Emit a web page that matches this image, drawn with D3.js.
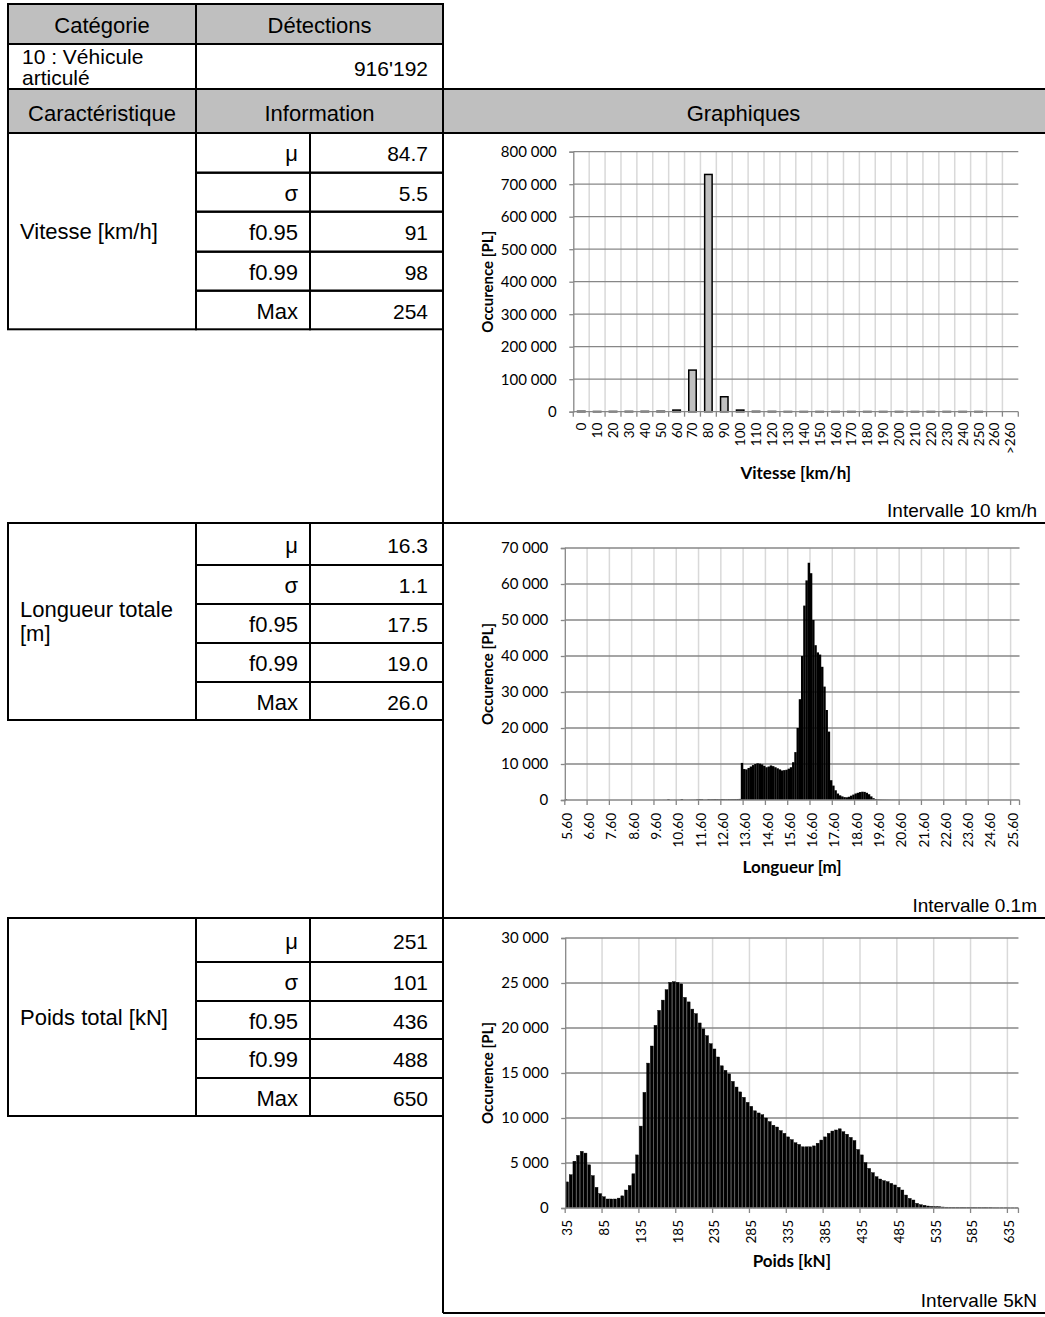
<!DOCTYPE html>
<html><head><meta charset="utf-8">
<script src="https://cdn.jsdelivr.net/npm/d3@7"></script>
<style>body{margin:0;background:#fff}svg{display:block}</style>
</head><body>
<svg id="c" width="1045" height="1317"></svg>
<script>
// ---------------- DATA ----------------
const speedCategories = ["0","10","20","30","40","50","60","70","80","90","100","110","120","130","140","150","160","170","180","190","200","210","220","230","240","250","260",">260"];
const speedValues = [1200,600,800,900,1000,1300,5000,128000,730000,46000,5000,1000,800,500,500,500,500,500,500,500,500,500,500,500,500,500,0,0];

const lengthStart = 5.6; // first 0.1 m class
const lengthTickLabels = ["5.60","6.60","7.60","8.60","9.60","10.60","11.60","12.60","13.60","14.60","15.60","16.60","17.60","18.60","19.60","20.60","21.60","22.60","23.60","24.60","25.60"];
const lengthValues = [
 200,0,0,0,0,0,0,0,0,0, 0,0,0,0,0,0,0,0,0,0,
 0,0,0,0,0,0,0,0,0,0, 0,0,0,0,0,0,0,0,0,0,
 30,20,30,20,40,30,220,40,30,50, 40,60,250,60,50,60,70,80,90,200,
 250,220,90,100,250,200,220,250,230,200, 260,240,220,250,230,240,260,280,300,10300,
 8600,8500,8900,9300,9700,10000,10200,10100,9900,9500, 9100,9300,9600,9400,9100,8800,8500,8200,8300,8400,
 8700,9100,10500,13300,20000,28000,40000,54000,61000,65900, 63000,50000,43000,41000,40400,37000,31500,25000,19000,5500,
 4000,2700,1800,1300,1000,800,750,900,1200,1500, 1800,2000,2200,2300,2250,2000,1600,1000,500,250,
 150,120,100,90,80,70,60,60,50,50, 50,40,40,40,30,30,30,30,30,20,
 20,20,20,20,20,20,20,20,20,20, 20,20,20,20,20,20,20,20,20,20,
 20,20,20,20,20,20,20,20,20,20, 20,20,20,20,20,20,20,20,20,20,
 20,20,20,20
];

const weightStart = 35; // first 5 kN class
const weightTickLabels = ["35","85","135","185","235","285","335","385","435","485","535","585","635"];
const weightValues = [
 2900,3700,5200,5850,6300,6100,4800,3600,2300,1600,
 1250,1000,1000,1000,1100,1350,2000,2500,3800,5900,
 9100,12850,16100,18000,20300,21960,23100,24260,25070,25150,
 25070,24900,23400,22900,22100,21600,20560,19900,19150,18260,
 17670,16780,15800,15300,14900,14070,13440,12900,12300,11740,
 11300,10800,10560,10370,10000,9600,9200,9000,8600,8300,
 7900,7600,7250,7070,6800,6800,6800,6900,7200,7550,
 7900,8300,8550,8670,8800,8480,8200,7850,7500,6500,
 5900,5040,4400,3930,3480,3220,3040,2930,2740,2560,
 2300,2000,1440,1070,890,520,370,300,220,180,
 150,150,110,90,80,70,60,60,50,50,
 40,40,40,30,30,30,20,20,20,20,
 10,10,10
];

const headerTexts = ["Catégorie","Détections","Caractéristique","Information","Graphiques"];
const categoryLabel = ["10 : Véhicule","articulé"];
const detections = "916'192";
const statNames = ["μ","σ","f0.95","f0.99","Max"];
const speedStats = ["84.7","5.5","91","98","254"];
const lengthStats = ["16.3","1.1","17.5","19.0","26.0"];
const weightStats = ["251","101","436","488","650"];
const sectionLabels = [["Vitesse [km/h]"],["Longueur totale","[m]"],["Poids total [kN]"]];
const xTitles = ["Vitesse [km/h]","Longueur [m]","Poids [kN]"];
const intervalTexts = ["Intervalle 10 km/h","Intervalle 0.1m","Intervalle 5kN"];
const yTitle = "Occurence [PL]";

// ---------------- DRAW ----------------
const svg = d3.select("#c");
const TF = "'Liberation Sans', Arial, sans-serif";
const CF = "Lato, 'Open Sans', sans-serif";
const GRAY = "#bfbfbf";
const fmt = d3.formatLocale({decimal:".", thousands:" ", grouping:[3], currency:["",""]}).format(",");

const gTable = svg.append("g");
function cell(x0,y0,x1,y1,fill){
  gTable.append("rect").attr("x",x0).attr("y",y0).attr("width",x1-x0).attr("height",y1-y0)
    .attr("fill",fill||"none").attr("stroke","#000").attr("stroke-width",2);
}
function txt(x,y,s,anchor,size){
  gTable.append("text").attr("x",x).attr("y",y).attr("text-anchor",anchor||"start")
    .attr("dominant-baseline","central").attr("font-family",TF).attr("font-size",size||22)
    .attr("fill","#000").text(s);
}
const C0=8,C1=196,C2=310,C3=443,CR=1044;
// header rows
cell(C0,4,C1,44,GRAY); cell(C1,4,C3,44,GRAY);
txt((C0+C1)/2,25,headerTexts[0],"middle"); txt((C1+C3)/2,25,headerTexts[1],"middle");
cell(C0,44,C1,89,"#fff"); cell(C1,44,C3,89,"#fff");
txt(22,56,categoryLabel[0],"start",21); txt(22,77,categoryLabel[1],"start",21);
txt(428,68,detections,"end",21);
cell(C0,89,C1,133,GRAY); cell(C1,89,C3,133,GRAY); cell(C3,89,CR+3,133,GRAY);
txt((C0+C1)/2,113,headerTexts[2],"middle"); txt((C1+C3)/2,113,headerTexts[3],"middle");
txt((C3+CR)/2,113,headerTexts[4],"middle");

const sections = [
  {top:133,bottom:523,rows:[133,172.7,211.7,251.7,290.7,329.3],stats:speedStats},
  {top:523,bottom:918,rows:[523,565,604,643,682,720],stats:lengthStats},
  {top:918,bottom:1313,rows:[918,962,1001,1039,1078,1116],stats:weightStats}
];
sections.forEach((s,k)=>{
  gTable.append("line").attr("x1",C3).attr("x2",C3).attr("y1",s.top).attr("y2",s.bottom).attr("stroke","#000").attr("stroke-width",2);
  gTable.append("line").attr("x1",C3).attr("x2",CR+3).attr("y1",s.bottom).attr("y2",s.bottom).attr("stroke","#000").attr("stroke-width",2);
  const r=s.rows;
  cell(C0,r[0],C1,r[5]);
  for(let i=0;i<5;i++){
    cell(C1,r[i],C2,r[i+1]); cell(C2,r[i],C3,r[i+1]);
    txt(298,(r[i]+r[i+1])/2+1,statNames[i],"end");
    txt(428,(r[i]+r[i+1])/2+1,s.stats[i],"end",21);
  }
  const lab=sectionLabels[k], mid=(r[0]+r[5])/2;
  lab.forEach((l,j)=>txt(20,mid+(j-(lab.length-1)/2)*24,l));
  txt(1037,s.bottom-13,intervalTexts[k],"end",19);
});

function chart(o){
  const g=svg.append("g");
  const x=d3.scaleBand().domain(o.cats).range([o.x0,o.x1]).padding(0);
  const y=d3.scaleLinear().domain([0,o.yMax]).range([o.base,o.top]);
  const bw=x.bandwidth();
  const ticks=d3.range(0,o.yMax+1,o.yStep);
  o.cats.forEach((c,i)=>{ if(i>0 && i%o.every===0){
    g.append("line").attr("x1",x(c)).attr("x2",x(c)).attr("y1",o.top).attr("y2",o.base)
      .attr("stroke","#d9d9d9").attr("stroke-width",1.5);
  }});
  ticks.forEach(t=>{ if(t>0) g.append("line").attr("x1",o.x0).attr("x2",o.x1).attr("y1",y(t)).attr("y2",y(t))
      .attr("stroke","#878787").attr("stroke-width",1.3); });
  g.selectAll("rect.bar").data(o.values).enter().append("rect")
    .attr("x",(d,i)=>x(o.cats[i])+(bw-bw*o.frac)/2)
    .attr("width",bw*o.frac)
    .attr("y",d=>y(d)).attr("height",d=>o.base-y(d))
    .attr("fill",o.fill).attr("stroke",o.stroke).attr("stroke-width",o.sw);
  const ya=g.append("g").attr("transform",`translate(${o.x0},0)`)
    .call(d3.axisLeft(y).tickValues(ticks).tickSize(4).tickPadding(12.5).tickFormat(d=>fmt(d)));
  ya.select(".domain").attr("stroke","#878787").attr("stroke-width",1.3);
  ya.selectAll(".tick line").attr("stroke","#878787").attr("stroke-width",1.3);
  ya.selectAll(".tick text").attr("font-family",CF).attr("font-size",15).attr("fill","#000");
  g.append("line").attr("x1",o.x0).attr("x2",o.x1).attr("y1",o.base).attr("y2",o.base)
    .attr("stroke","#878787").attr("stroke-width",1.3);
  o.cats.forEach((c,i)=>{ if(i%o.every===0){
    g.append("line").attr("x1",x(c)).attr("x2",x(c)).attr("y1",o.base).attr("y2",o.base+5)
      .attr("stroke","#878787").attr("stroke-width",1.3);
  }});
  g.append("line").attr("x1",o.x1).attr("x2",o.x1).attr("y1",o.base).attr("y2",o.base+5)
      .attr("stroke","#878787").attr("stroke-width",1.3);
  o.labels.forEach((l,j)=>{
    const c=o.cats[j*o.every];
    const cx=x(c)+bw/2+o.lshift;
    g.append("text").attr("transform",`translate(${cx},${o.base+o.loff}) rotate(-90)`)
      .attr("text-anchor","end").attr("dominant-baseline","central")
      .attr("font-family",CF).attr("font-size",13.5).attr("fill","#000").text(l);
  });
  g.append("text").attr("x",(o.x0+o.x1)/2).attr("y",o.titleY).attr("text-anchor","middle")
    .attr("dominant-baseline","central").attr("font-family",CF).attr("font-weight","bold")
    .attr("font-size",17).attr("fill","#000").text(o.xTitle);
  g.append("text").attr("transform",`translate(487,${(o.base+o.top)/2}) rotate(-90)`)
    .attr("text-anchor","middle").attr("dominant-baseline","central").attr("font-family",CF)
    .attr("font-weight","bold").attr("font-size",15).attr("fill","#000").text(yTitle);
}

chart({cats:speedCategories,values:speedValues,labels:speedCategories,every:1,
  x0:573.3,x1:1018.3,base:411.7,top:151.7,yMax:800000,yStep:100000,
  frac:0.47,fill:"#c0c0c0",stroke:"#000",sw:1.5,loff:11,lshift:0,titleY:472,xTitle:xTitles[0]});

const lengthCats=lengthValues.map((d,i)=>(lengthStart+i*0.1).toFixed(2));
chart({cats:lengthCats,values:lengthValues,labels:lengthTickLabels,every:10,
  x0:564.8,x1:564.8+lengthValues.length*2.229,base:800,top:548,yMax:70000,yStep:10000,
  frac:1.08,fill:"#000",stroke:"none",sw:0,loff:13,lshift:1,titleY:866,xTitle:xTitles[1]});

const weightCats=weightValues.map((d,i)=>String(weightStart+i*5));
chart({cats:weightCats,values:weightValues,labels:weightTickLabels,every:10,
  x0:565.2,x1:565.2+weightValues.length*3.685,base:1208,top:938,yMax:30000,yStep:5000,
  frac:0.8,fill:"#000",stroke:"#000",sw:0.4,loff:12,lshift:0,titleY:1260,xTitle:xTitles[2]});
</script>
</body></html>
